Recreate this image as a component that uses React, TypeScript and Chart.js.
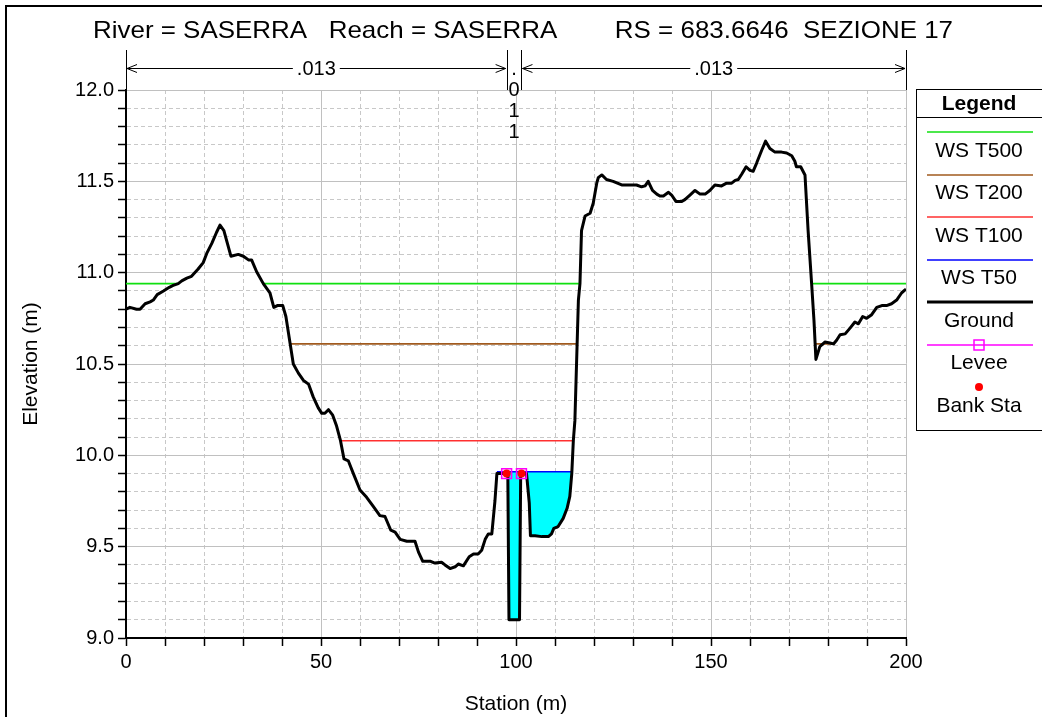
import React, { useEffect, useRef } from 'react';
import { Chart, registerables } from 'chart.js';

Chart.register(...registerables);

const FONT = '"Liberation Sans", Arial, sans-serif';

const riverName = 'SASERRA';
const reachName = 'SASERRA';
const riverStation = '683.6646';
const sectionName = 'SEZIONE 17';

const groundStation = [
  0, 1.0, 2.7, 3.6, 4.9, 6.2, 7.0, 8.0, 9.6, 11.1, 12.1, 13.4, 14.3, 15.6, 16.8, 18.5, 19.8, 20.8, 22.0, 23.2,
  24.1, 25.1, 26.0, 26.9, 28.8, 30.1, 31.4, 32.2, 33.5, 35.2, 36.9, 37.9, 38.8, 40.2, 41.0, 42.1, 42.9, 44.2,
  45.5, 46.8, 48.0, 49.3, 50.2, 51.0, 51.9, 53.0, 54.0, 55.0, 55.9, 57.0, 58.3, 60.0, 61.7, 63.4, 65.1, 66.4,
  67.9, 69.0, 70.3, 72.0, 73.3, 74.1, 75.0, 76.1, 77.1, 78.1, 79.2, 80.9, 81.8, 83.1, 84.4, 85.2, 86.5, 88.0,
  89.1, 90.3, 91.2, 92.1, 92.9, 93.8, 94.6, 95.1, 96.1, 97.6, 97.9, 98.2, 100.9, 101.2, 101.4, 102.7, 103.4,
  103.7, 104.9, 106.6, 108.3, 109.1, 109.7, 110.8, 112.1, 113.1, 113.8, 114.3, 114.7, 115.1, 116.0, 116.4,
  116.8, 117.7, 119.0, 119.8, 120.7, 121.1, 122.0, 123.2, 124.9, 127.1, 129.2, 130.9, 132.2, 133.1, 133.9,
  135.0, 136.1, 136.9, 137.8, 139.1, 139.9, 141.0, 142.5, 143.3, 144.6, 145.9, 147.2, 148.5, 149.7, 151.0,
  152.7, 154.0, 155.3, 156.2, 157.0, 157.9, 159.0, 160.0, 160.8, 161.7, 163.0, 164.0, 165.1, 166.4, 168.1,
  169.4, 170.7, 171.5, 171.9, 173.0, 174.1, 174.9, 175.8, 176.4, 176.9, 177.9, 179.2, 180.5, 181.4, 182.2,
  183.1, 184.4, 185.6, 186.9, 187.8, 188.9, 189.9, 191.2, 192.5, 193.8, 195.0, 196.3, 197.6, 198.9, 200.0,
];

const groundElevation = [
  10.8, 10.81, 10.8, 10.8, 10.83, 10.84, 10.85, 10.88, 10.9, 10.92, 10.93, 10.94, 10.955, 10.97, 10.98, 11.02,
  11.055, 11.11, 11.16, 11.22, 11.26, 11.23, 11.16, 11.09, 11.1, 11.09, 11.07, 11.07, 11.005, 10.94, 10.89,
  10.81, 10.82, 10.82, 10.76, 10.61, 10.5, 10.45, 10.41, 10.39, 10.32, 10.26, 10.23, 10.23, 10.25, 10.22,
  10.16, 10.08, 9.98, 9.97, 9.9, 9.81, 9.77, 9.72, 9.67, 9.665, 9.59, 9.58, 9.54, 9.53, 9.53, 9.53, 9.47,
  9.42, 9.42, 9.42, 9.41, 9.415, 9.4, 9.38, 9.39, 9.405, 9.395, 9.445, 9.46, 9.46, 9.48, 9.54, 9.57, 9.57,
  9.75, 9.9, 9.9, 9.9, 9.9, 9.1, 9.1, 9.9, 9.9, 9.9, 9.74, 9.56, 9.56, 9.555, 9.555, 9.57, 9.6, 9.61, 9.655,
  9.71, 9.775, 9.9, 10.08, 10.19, 10.85, 10.94, 11.23, 11.31, 11.325, 11.38, 11.49, 11.52, 11.535, 11.51,
  11.5, 11.48, 11.48, 11.48, 11.47, 11.475, 11.5, 11.45, 11.43, 11.42, 11.42, 11.44, 11.425, 11.39, 11.39,
  11.4, 11.425, 11.45, 11.43, 11.43, 11.45, 11.48, 11.475, 11.49, 11.49, 11.505, 11.51, 11.54, 11.58, 11.56,
  11.555, 11.6, 11.67, 11.72, 11.68, 11.66, 11.66, 11.655, 11.64, 11.61, 11.58, 11.58, 11.535, 11.23, 10.94,
  10.74, 10.525, 10.595, 10.62, 10.615, 10.61, 10.63, 10.66, 10.665, 10.695, 10.73, 10.72, 10.76, 10.75,
  10.77, 10.81, 10.82, 10.82, 10.83, 10.85, 10.89, 10.91,
];

const wsLabels = ['WS T500', 'WS T200', 'WS T100', 'WS T50'];
const wsElevations = [10.94, 10.61, 10.08, 9.91];
const wsColors = ['#10e010', '#a05a1e', '#ff3030', '#0000ff'];
const wsExtents = [
  [[0, 13.4], [35.2, 116.4], [175.8, 200]],
  [[42.1, 115.8], [176.7, 181.5]],
  [[55.0, 114.7]],
  [[95.1, 114.3]],
];

const leveeStations = [97.6, 101.4];
const leveeElevations = [9.9, 9.9];
const bankStations = [97.6, 101.4];
const bankElevations = [9.9, 9.9];

const nValues = ['.013', '.011', '.013'];
const nValueBreaks = [0, 97.6, 101.4, 200];

const groundColor = '#000000';
const waterColor = '#00ffff';
const leveeColor = '#ff00ff';
const bankColor = '#ff0000';

const isMultiple = (v: number, step: number) => Math.abs(v / step - Math.round(v / step)) < 1e-6;

const annotationPlugin = {
  id: 'hecrasDecor',
  afterDraw(chart: any) {
    const ctx = chart.ctx as CanvasRenderingContext2D;
    const xs = chart.scales.x;
    ctx.save();
    // outer frame
    ctx.fillStyle = '#000';
    ctx.fillRect(5, 5, 2, chart.height);
    ctx.fillRect(5, 5, chart.width, 2);

    // title
    const title = `River = ${riverName}   Reach = ${reachName}        RS = ${riverStation}  ${sectionName}`;
    ctx.font = `24px ${FONT}`;
    ctx.textAlign = 'center';
    ctx.textBaseline = 'middle';
    const tw = ctx.measureText(title).width;
    const sx = 860 / tw;
    ctx.save();
    ctx.translate(523, 31);
    ctx.scale(sx, 1);
    ctx.fillText(title, 0, 0);
    ctx.restore();

    // n values
    ctx.strokeStyle = '#000';
    ctx.lineWidth = 1;
    ctx.font = `20px ${FONT}`;
    const yArrow = 68.5;
    for (let i = 0; i < nValueBreaks.length; i++) {
      const px = Math.round(xs.getPixelForValue(nValueBreaks[i])) + 0.5;
      ctx.beginPath();
      ctx.moveTo(px, 50);
      ctx.lineTo(px, 90);
      ctx.stroke();
    }
    for (let i = 0; i < nValues.length; i++) {
      const x1 = xs.getPixelForValue(nValueBreaks[i]);
      const x2 = xs.getPixelForValue(nValueBreaks[i + 1]);
      const cx = (x1 + x2) / 2;
      const label = nValues[i];
      const w = ctx.measureText(label).width;
      if (w + 30 < x2 - x1) {
        ctx.beginPath();
        ctx.moveTo(x1 + 1, yArrow);
        ctx.lineTo(cx - w / 2 - 4, yArrow);
        ctx.moveTo(cx + w / 2 + 4, yArrow);
        ctx.lineTo(x2 - 1, yArrow);
        ctx.moveTo(x1 + 11, yArrow - 4);
        ctx.lineTo(x1 + 1, yArrow);
        ctx.lineTo(x1 + 11, yArrow + 4);
        ctx.moveTo(x2 - 11, yArrow - 4);
        ctx.lineTo(x2 - 1, yArrow);
        ctx.lineTo(x2 - 11, yArrow + 4);
        ctx.stroke();
        ctx.fillText(label, cx, yArrow + 1);
      } else {
        const chars = label.split('');
        chars.forEach((ch, k) => ctx.fillText(ch, cx, 69 + k * 21));
      }
    }

    // legend
    const lx = 916.5, ly = 89.5, lr = 1046, lb = 430.5;
    ctx.strokeStyle = '#000';
    ctx.lineWidth = 1;
    ctx.strokeRect(lx, ly, lr - lx, lb - ly);
    ctx.beginPath();
    ctx.moveTo(lx, 117.5);
    ctx.lineTo(lr, 117.5);
    ctx.stroke();
    const lcx = 979;
    ctx.font = `bold 21px ${FONT}`;
    ctx.fillStyle = '#000';
    ctx.fillText('Legend', lcx, 104);
    const items: { label: string; kind: string; color: string; width: number }[] = [
      ...wsLabels.map((l, i) => ({ label: l, kind: 'line', color: wsColors[i], width: 1.6 })),
      { label: 'Ground', kind: 'line', color: groundColor, width: 3 },
      { label: 'Levee', kind: 'levee', color: leveeColor, width: 1.6 },
      { label: 'Bank Sta', kind: 'dot', color: bankColor, width: 1 },
    ];
    ctx.font = `21px ${FONT}`;
    items.forEach((it, i) => {
      const top = 118 + 42.5 * i;
      const yl = Math.round(top + 14);
      if (it.kind === 'line' || it.kind === 'levee') {
        ctx.strokeStyle = it.color;
        ctx.lineWidth = it.width;
        ctx.beginPath();
        ctx.moveTo(927, yl);
        ctx.lineTo(1033, yl);
        ctx.stroke();
        if (it.kind === 'levee') {
          ctx.lineWidth = 1.5;
          ctx.strokeRect(lcx - 5, yl - 5, 10, 10);
        }
      } else {
        ctx.fillStyle = it.color;
        ctx.beginPath();
        ctx.arc(lcx, top + 14, 4, 0, Math.PI * 2);
        ctx.fill();
      }
      ctx.fillStyle = '#000';
      ctx.fillText(it.label, lcx, top + 33);
    });
    ctx.restore();
  },
};

export default function App() {
  const ref = useRef<HTMLCanvasElement | null>(null);

  useEffect(() => {
    if (!ref.current) return;
    const ground = groundStation.map((s, i) => ({ x: s, y: groundElevation[i] }));
    const t50 = wsExtents[3][0];
    const water = ground.filter((p) => p.x >= t50[0] && p.x <= t50[1]);

    const wsDatasets = wsLabels.map((label, i) => {
      const pts: { x: number; y: number | null }[] = [];
      wsExtents[i].forEach(([a, b]) => {
        pts.push({ x: a, y: wsElevations[i] }, { x: b, y: wsElevations[i] }, { x: b, y: null });
      });
      return {
        label,
        data: pts,
        showLine: true,
        borderColor: wsColors[i],
        borderWidth: 1.6,
        pointRadius: 0,
        fill: false,
        order: 5 + i,
      };
    });

    const tickFont = { family: FONT, size: 20 };
    const titleFont = { family: FONT, size: 21 };

    const chart = new Chart(ref.current, {
      type: 'scatter',
      data: {
        datasets: [
          {
            label: 'Water',
            data: water,
            showLine: true,
            borderColor: 'rgba(0,0,0,0)',
            borderWidth: 0,
            backgroundColor: waterColor,
            pointRadius: 0,
            fill: { value: wsElevations[3] },
            order: 20,
          } as any,
          ...wsDatasets,
          {
            label: 'Ground',
            data: ground,
            showLine: true,
            borderColor: groundColor,
            borderWidth: 3,
            borderJoinStyle: 'round',
            pointRadius: 0,
            fill: false,
            order: 2,
          },
          {
            label: 'Levee',
            data: leveeStations.map((s, i) => ({ x: s, y: leveeElevations[i] })),
            showLine: false,
            pointStyle: 'rect',
            pointRadius: 7,
            pointBorderColor: leveeColor,
            pointBackgroundColor: 'rgba(0,0,0,0)',
            pointBorderWidth: 1.5,
            order: 1,
          },
          {
            label: 'Bank Sta',
            data: bankStations.map((s, i) => ({ x: s, y: bankElevations[i] })),
            showLine: false,
            pointStyle: 'circle',
            pointRadius: 4,
            pointBorderColor: bankColor,
            pointBackgroundColor: bankColor,
            pointBorderWidth: 0,
            order: 0,
          },
        ],
      },
      options: {
        responsive: false,
        animation: false,
        devicePixelRatio: 1,
        layout: { padding: { left: 0, top: 90, right: 136, bottom: 0 } },
        plugins: {
          legend: { display: false },
          tooltip: { enabled: false },
          title: { display: false },
        },
        scales: {
          x: {
            type: 'linear',
            min: 0,
            max: 200,
            afterFit: (s: any) => {
              s.height = 79;
            },
            ticks: {
              stepSize: 10,
              autoSkip: false,
              maxRotation: 0,
              color: '#000',
              padding: 4,
              font: tickFont,
              callback: (v: any) => (isMultiple(Number(v), 50) ? String(v) : ''),
            },
            grid: {
              color: (c: any) => (c.tick && isMultiple(c.tick.value, 50) ? '#c0c0c0' : '#c8c8c8'),
              lineWidth: 1,
              tickLength: 8,
              tickColor: '#000',
              tickWidth: 1.5,
            },
            border: {
              display: true,
              color: '#000',
              width: 2,
              dash: (c: any) => (c.tick && !isMultiple(c.tick.value, 50) ? [4, 3] : []),
            },
            title: {
              display: true,
              text: 'Station (m)',
              color: '#000',
              font: titleFont,
              padding: { top: 0, bottom: 0 },
            },
          },
          y: {
            type: 'linear',
            min: 9,
            max: 12,
            afterFit: (s: any) => {
              s.width = 126;
            },
            ticks: {
              stepSize: 0.1,
              autoSkip: false,
              color: '#000',
              padding: 4,
              font: tickFont,
              callback: (v: any) => (isMultiple(Number(v), 0.5) ? Number(v).toFixed(1) : ''),
            },
            grid: {
              color: (c: any) => (c.tick && isMultiple(c.tick.value, 0.5) ? '#c0c0c0' : '#c8c8c8'),
              lineWidth: 1,
              tickLength: 8,
              tickColor: '#000',
              tickWidth: 1.5,
            },
            border: {
              display: true,
              color: '#000',
              width: 2,
              dash: (c: any) => (c.tick && !isMultiple(c.tick.value, 0.5) ? [4, 3] : []),
            },
            title: {
              display: true,
              text: 'Elevation (m)',
              color: '#000',
              font: titleFont,
              padding: { top: 18.5, bottom: 0 },
            },
          },
        },
      } as any,
      plugins: [annotationPlugin],
    });
    return () => chart.destroy();
  }, []);

  return (
    <div style={{ position: 'fixed', left: 0, top: 0, width: 1042, height: 717, background: '#fff' }}>
      <canvas ref={ref} width={1042} height={717} style={{ display: 'block', width: 1042, height: 717 }} />
    </div>
  );
}
